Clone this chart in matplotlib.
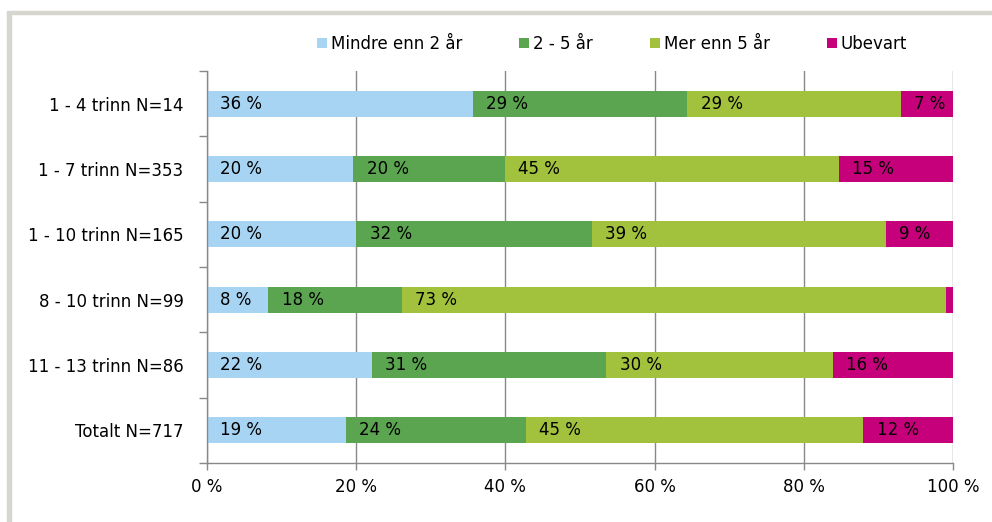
import matplotlib.pyplot as plt
import numpy as np
from matplotlib.patches import Rectangle

categories = ['1 - 4 trinn N=14', '1 - 7 trinn N=353', '1 - 10 trinn N=165',
              '8 - 10 trinn N=99', '11 - 13 trinn N=86', 'Totalt N=717']
series = ['Mindre enn 2 år', '2 - 5 år', 'Mer enn 5 år', 'Ubevart']
colors = ['#A8D4F3', '#5BA551', '#A2C13D', '#C6007A']

mindre = [35.6, 19.6, 20.0, 8.2, 22.1, 18.6]
to_fem = [28.8, 20.3, 31.6, 17.9, 31.4, 24.1]
mer = [28.6, 44.8, 39.4, 73.0, 30.4, 45.3]
ubevart = [7.0, 15.3, 9.0, 0.9, 16.1, 12.0]
values = [mindre, to_fem, mer, ubevart]

plt.rcParams['font.family'] = ['DejaVu Sans']
fig = plt.figure(figsize=(9.92, 5.22), dpi=100)
fs = 12

# grey frame at top/left like the source
fig.patches.append(Rectangle((0.0075, 0), 0.004, 0.977, transform=fig.transFigure,
                             color='#D6D6CE', zorder=0))
fig.patches.append(Rectangle((0.0075, 0.973), 1.0, 0.006, transform=fig.transFigure,
                             color='#D6D6CE', zorder=0))

ax = fig.add_axes([207 / 992, 1 - 463 / 522, 746 / 992, 392 / 522])
y = np.arange(len(categories))
left = np.zeros(len(categories))
for vals, name, col in zip(values, series, colors):
    ax.barh(y, vals, left=left, height=0.4, color=col, label=name, zorder=2)
    for yi, (l, v) in enumerate(zip(left, vals)):
        if v >= 3:
            ax.text(l + 1.8, yi, f'{round(v):d} %', va='center', ha='left',
                    fontsize=fs, color='black', zorder=3)
    left += np.array(vals)

ax.set_xlim(0, 100)
ax.set_ylim(len(categories) - 0.5, -0.5)
ax.set_xticks(np.arange(0, 101, 20))
ax.set_xticklabels([f'{t} %' for t in range(0, 101, 20)], fontsize=fs)
ax.set_yticks(y)
ax.set_yticklabels(categories, fontsize=fs)
ax.set_yticks(np.arange(-0.5, len(categories), 1), minor=True)
ax.tick_params(axis='y', which='major', length=0, pad=17)
ax.tick_params(axis='y', which='minor', length=6, color='#888888', width=1)
ax.tick_params(axis='x', length=5, color='#888888', width=1, pad=6)
ax.grid(axis='x', color='#888888', linewidth=1, zorder=1)
for s in ['top', 'right']:
    ax.spines[s].set_visible(False)
for s in ['left', 'bottom']:
    ax.spines[s].set_color('#888888')
    ax.spines[s].set_linewidth(1)

fig.legend(loc='center', bbox_to_anchor=(612 / 992, 1 - 44 / 522), ncol=4,
           frameon=False, fontsize=fs, handlelength=0.6, handleheight=0.6,
           handletextpad=0.25, columnspacing=3.4)

fig.savefig('out.png', dpi=100)
